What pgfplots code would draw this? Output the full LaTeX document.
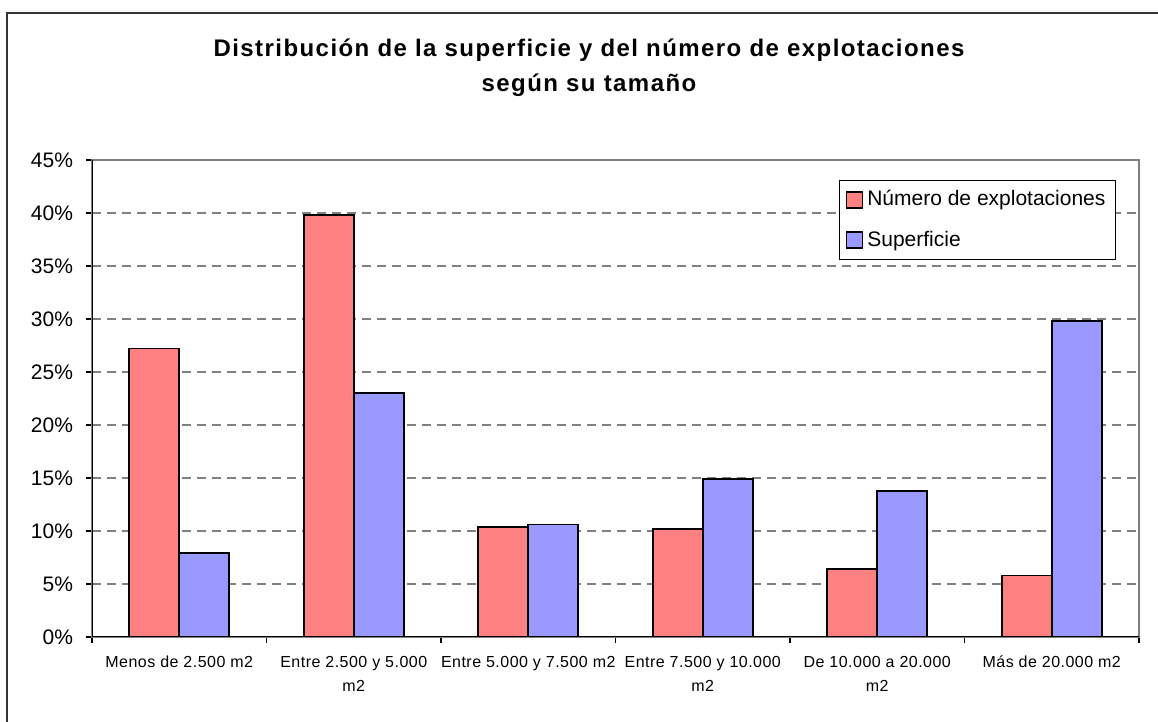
\documentclass[border=0pt]{standalone}
\usepackage{fontspec}
\setmainfont{Liberation Sans}
\usepackage{pgfplots}
\pgfplotsset{compat=1.18}
\definecolor{barred}{RGB}{255,128,128}
\definecolor{barblue}{RGB}{153,153,255}
\definecolor{gridgray}{RGB}{128,128,128}
\begin{document}
\begin{tikzpicture}
\useasboundingbox (0,0) rectangle (579pt,361pt);
\draw[line width=1pt, black!80] (3.5pt,0pt) -- (3.5pt,354.5pt) -- (579pt,354.5pt);
\node[anchor=base, font=\bfseries\fontsize{12}{14}\selectfont\addfontfeature{LetterSpace=6}] at (294.5pt,332.5pt) {Distribución de la superficie y del número de explotaciones};
\node[anchor=base, font=\bfseries\fontsize{12}{14}\selectfont\addfontfeature{LetterSpace=6}] at (294.5pt,315pt) {según su tamaño};
\begin{axis}[
  at={(46pt,42.5pt)}, anchor=south west,
  scale only axis, width=523.5pt, height=238.5pt,
  ybar=0pt, bar width=25pt,
  xmin=-0.5, xmax=5.5, ymin=0, ymax=45,
  xtick={-0.5,0.5,...,5.5},
  x tick label as interval,
  xticklabels={Menos de 2.500 m2, Entre 2.500 y 5.000\\m2, Entre 5.000 y 7.500 m2, Entre 7.500 y 10.000\\m2, De 10.000  a 20.000\\m2, Más de 20.000 m2},
  xticklabel style={align=center, font=\fontsize{8}{12}\selectfont\addfontfeature{LetterSpace=3}, yshift=-3pt},
  ytick={0,5,...,45},
  yticklabels={0\%,5\%,10\%,15\%,20\%,25\%,30\%,35\%,40\%,45\%},
  yticklabel style={font=\fontsize{10.5}{12}\selectfont, xshift=-3pt},
  /pgf/number format/assume math mode=true,
  tick align=outside, major tick length=3pt,
  xtick pos=bottom, ytick pos=left,
  tick style={black, line width=0.6pt},
  axis line style={draw=gridgray, line width=0.8pt},
  ymajorgrids, grid style={draw=gridgray, dash pattern=on 4.5pt off 3pt, line width=0.6pt},
  legend style={at={(0.978,0.958)}, anchor=north east, draw=black, line width=0.5pt,
    font=\fontsize{10.5}{12}\selectfont, row sep=7pt, inner sep=3pt,
    legend cell align=left},
  legend image code/.code={\draw[#1, line width=0.8pt] (0pt,-4pt) rectangle (8pt,4pt);},
]
\addplot[fill=barred, draw=black, line width=0.8pt] coordinates {(0,27.2) (1,39.8) (2,10.4) (3,10.2) (4,6.4) (5,5.8)};
\addplot[fill=barblue, draw=black, line width=0.8pt] coordinates {(0,7.9) (1,23.0) (2,10.6) (3,14.9) (4,13.8) (5,29.8)};
\legend{Número de explotaciones, Superficie}
\draw[black, line width=0.8pt] (rel axis cs:0,1) -- (rel axis cs:0,0) -- (rel axis cs:1,0);
\end{axis}
\end{tikzpicture}
\end{document}
